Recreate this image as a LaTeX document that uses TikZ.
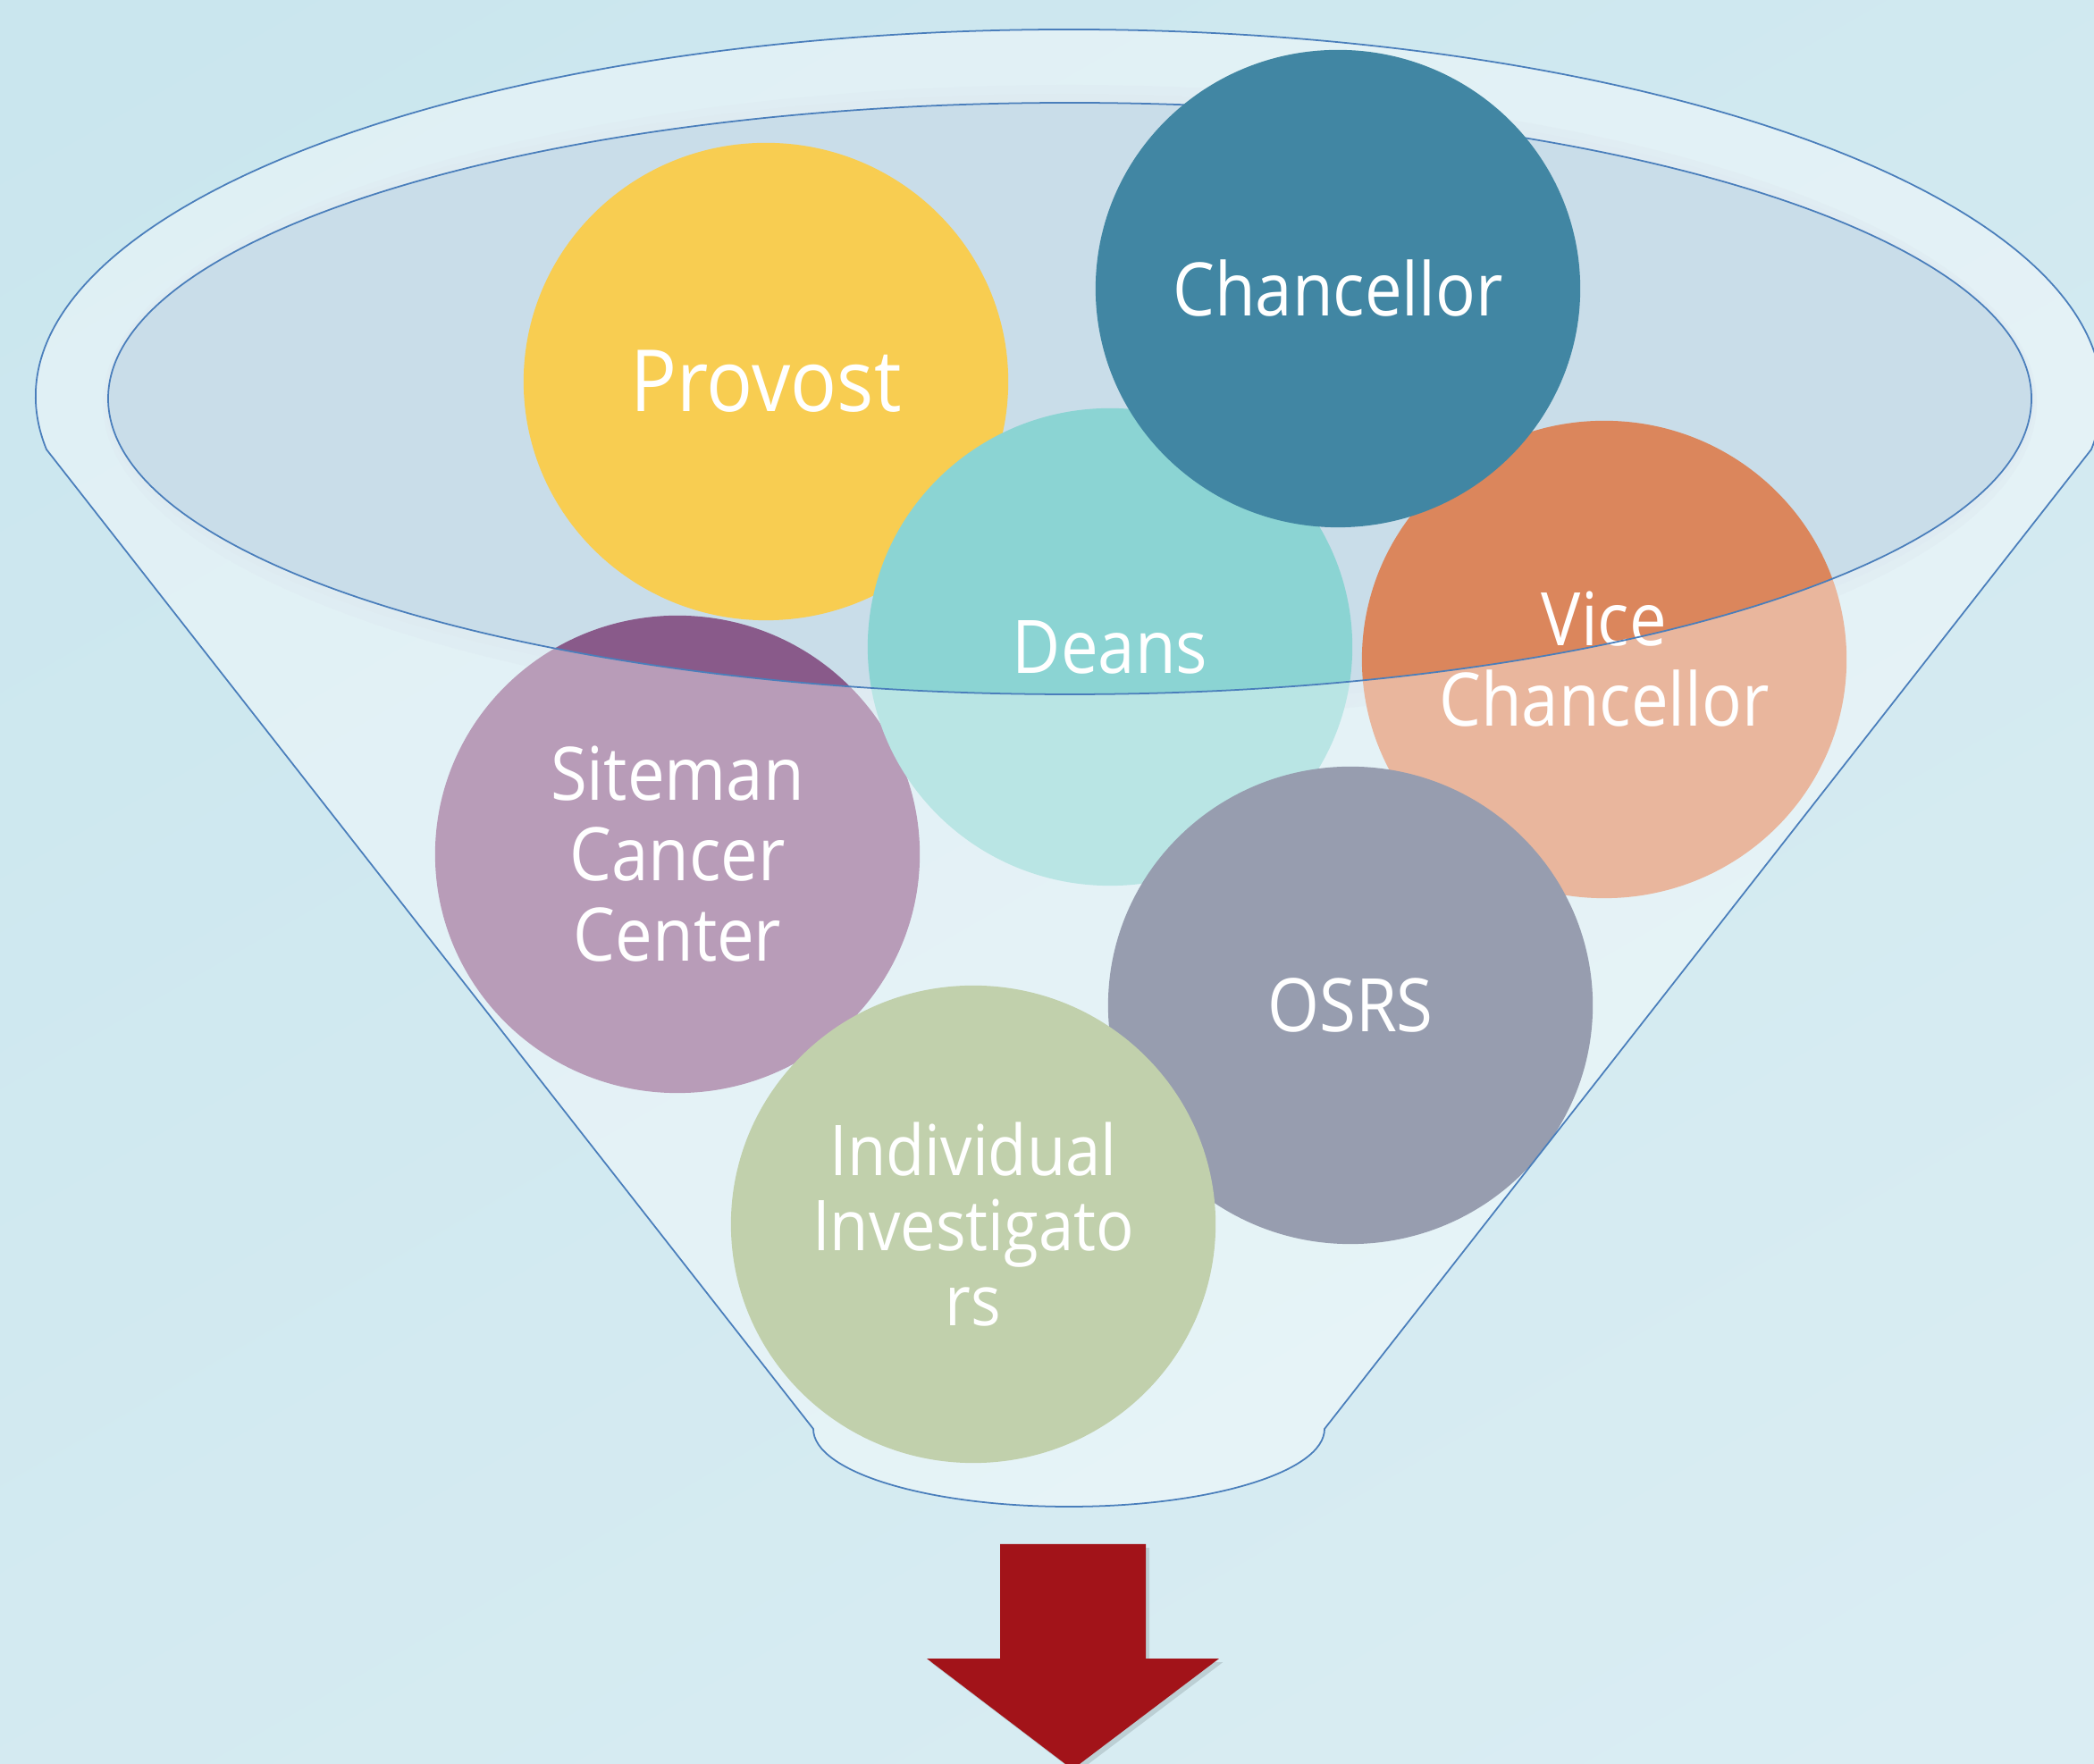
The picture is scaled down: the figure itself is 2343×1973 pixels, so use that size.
\documentclass[tikz,border=0pt]{standalone}
\usepackage{fontspec}
\setmainfont{Open Sans}[FakeStretch=0.9]
\usetikzlibrary{shapes.geometric}

\definecolor{bgtop}{HTML}{CAE6EE}
\definecolor{bgbot}{HTML}{DAEDF3}
\definecolor{rimline}{HTML}{4A7EBB}
\definecolor{basin}{HTML}{C9DDE9}
\definecolor{provost}{HTML}{F8CD51}
\definecolor{chancellor}{HTML}{4186A3}
\definecolor{deans}{HTML}{8BD4D3}
\definecolor{vicech}{HTML}{DB865C}
\definecolor{siteman}{HTML}{895A8A}
\definecolor{osrs}{HTML}{525D7B}
\definecolor{investig}{HTML}{99B276}
\definecolor{arrowred}{HTML}{A21319}

\begin{document}
\begin{tikzpicture}[x=0.01cm,y=0.01cm,
    bubble/.style={ellipse, minimum width=5.42cm, minimum height=5.34cm,
      inner sep=0pt, text=white, align=center,
      font=\fontsize{23.5}{25.6}\selectfont},
    rim/.style={draw=rimline, line width=0.5pt}]
  \useasboundingbox (0,0) rectangle (2343,1973);
  \shade[top color=bgtop, bottom color=bgbot, shading angle=30]
    (-300,-300) rectangle (2643,2273);

  % the liquid surface and its soft shadow
  \fill[basin, opacity=0.5] (1197,1522) ellipse [x radius=1082, y radius=356];
  \fill[basin, opacity=0.6] (1197,1525) ellipse [x radius=1079, y radius=343];
  \fill[basin] (1197,1527) ellipse [x radius=1076, y radius=331];

  % bubbles under the glass
  \node[bubble, fill=provost, font=\fontsize{27.3}{29}\selectfont] (prov) at (857,1546) {Provost};
  \node[bubble, fill=siteman] (site) at (758,1017) {Siteman\\Cancer\\Center};
  \node[bubble, fill=deans] (deans) at (1242,1249) {Deans};
  \node[bubble, fill=vicech] (vice) at (1795,1235) {Vice\\Chancellor};
  \node[bubble, fill=osrs] (osrs) at (1511,848) {OSRS};
  \node[bubble, fill=investig, font=\fontsize{22.3}{24}\selectfont] (indiv) at (1089,603) {Individual\\Investigato\\rs};

  % the glass of the funnel
  \fill[white, fill opacity=0.4, even odd rule]
    (52,1470) arc[start angle=188.26, end angle=-8.26, x radius=1156, y radius=411]
    -- (1482,374) arc[start angle=0, end angle=-180, x radius=286, y radius=87]
    -- cycle
    (1197,1527) ellipse [x radius=1076, y radius=331];
  \draw[rim]
    (52,1470) arc[start angle=188.26, end angle=-8.26, x radius=1156, y radius=411]
    -- (1482,374) arc[start angle=0, end angle=-180, x radius=286, y radius=87]
    -- cycle;
  \draw[rim] (1197,1527) ellipse [x radius=1076, y radius=331];

  % the top bubble sits over the rim
  \node[bubble, fill=chancellor] (chanc) at (1497,1650) {Chancellor};

  % outlet arrow
  \fill[black, opacity=0.12, xshift=1.2pt, yshift=-1.2pt]
    (1119,245) -- (1282,245) -- (1282,117) -- (1364,117) -- (1200,-7)
    -- (1037,117) -- (1119,117) -- cycle;
  \fill[arrowred]
    (1119,245) -- (1282,245) -- (1282,117) -- (1364,117) -- (1200,-7)
    -- (1037,117) -- (1119,117) -- cycle;
\end{tikzpicture}
\end{document}
